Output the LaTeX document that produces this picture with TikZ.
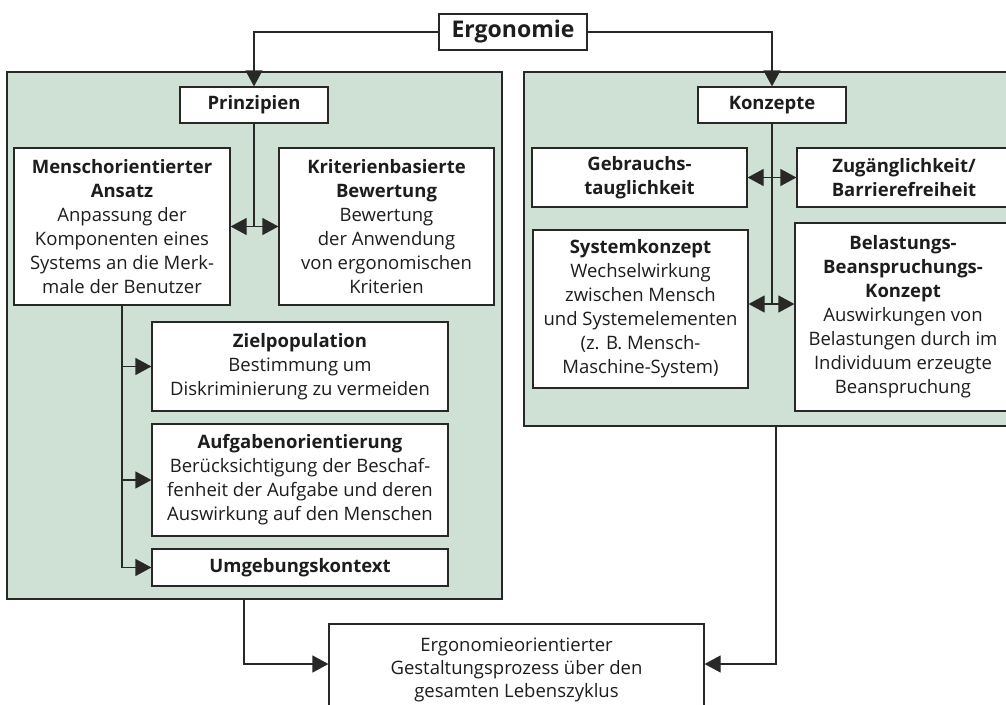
\documentclass[tikz,border=0pt]{standalone}
\usepackage{fontspec}
\setmainfont{Open Sans}
\usetikzlibrary{arrows.meta}
\definecolor{panelfill}{RGB}{207,225,212}
\definecolor{lineclr}{RGB}{40,40,40}
\definecolor{txtclr}{RGB}{30,28,29}
\begin{document}
\begin{tikzpicture}[x=1pt,y=-1pt,
  box/.style={draw=lineclr, line width=1.2pt, fill=white, inner sep=0pt, align=center, text=txtclr, font=\fontsize{18.5}{24}\selectfont},
  panel/.style={draw=lineclr, line width=1.4pt, fill=panelfill, inner sep=0pt},
  conn/.style={draw=lineclr, line width=1.2pt},
  arr/.style={-{Triangle[length=16pt 0,width=17pt 0]}},
  darr/.style={{Triangle[length=16pt 0,width=17pt 0]}-{Triangle[length=16pt 0,width=17pt 0]}}
]
\useasboundingbox (0,0) rectangle (1006,704);
\clip (0,0) rectangle (1006,704);
% panels
\node[panel, minimum width=495pt, minimum height=527pt] (pL) at (254.5,335.5) {};
\node[panel, minimum width=506pt, minimum height=354pt] (pR) at (777,249) {};
% top
\node[box, minimum width=148pt, minimum height=36pt, font=\fontsize{23}{28}\selectfont\bfseries] (ergo) at (513,32) {Ergonomie};
\node[box, minimum width=148pt, minimum height=36pt, font=\fontsize{18.5}{24}\selectfont\bfseries] (prin) at (254,105) {Prinzipien};
\node[box, minimum width=148pt, minimum height=36pt, font=\fontsize{18.5}{24}\selectfont\bfseries] (konz) at (772,105) {Konzepte};
% left panel
\node[box, minimum width=216pt, minimum height=157pt] (mensch) at (122,226.5) {\textbf{Menschorientierter}\\\textbf{Ansatz}\\Anpassung der\\Komponenten eines\\Systems an die Merk-\\male der Benutzer};
\node[box, minimum width=215pt, minimum height=157pt] (krit) at (386.5,226.5) {\textbf{Kriterienbasierte}\\\textbf{Bewertung}\\Bewertung\\der Anwendung\\von ergonomischen\\Kriterien};
\node[box, minimum width=296pt, minimum height=89pt] (ziel) at (300,366.5) {\textbf{Zielpopulation}\\Bestimmung um\\Diskriminierung zu vermeiden};
\node[box, minimum width=296pt, minimum height=112pt] (aufg) at (300,480) {\textbf{Aufgabenorientierung}\\Berücksichtigung der Beschaf-\\fenheit der Aufgabe und deren\\Auswirkung auf den Menschen};
\node[box, minimum width=296pt, minimum height=37pt] (umg) at (300,567.5) {\textbf{Umgebungskontext}};
% right panel
\node[box, minimum width=215pt, minimum height=59pt] (gebr) at (639.5,177.5) {\textbf{Gebrauchs-}\\\textbf{tauglichkeit}};
\node[box, minimum width=214pt, minimum height=59pt] (zug) at (904,177.5) {\textbf{Zugänglichkeit/}\\\textbf{Barrierefreiheit}};
\node[box, minimum width=215pt, minimum height=158pt] (sys) at (640.5,309) {\textbf{Systemkonzept}\\Wechselwirkung\\zwischen Mensch\\und Systemelementen\\(z. B. Mensch-\\Maschine-System)};
\node[box, minimum width=216pt, minimum height=188pt] (bel) at (903,317) {\textbf{Belastungs-}\\\textbf{Beanspruchungs-}\\\textbf{Konzept}\\Auswirkungen von\\Belastungen durch im\\Individuum erzeugte\\Beanspruchung};
% bottom
\node[box, minimum width=375pt, minimum height=92pt, font=\fontsize{18.5}{23}\selectfont] (bot) at (516.5,670) {Ergonomieorientierter\\Gestaltungsprozess über den\\gesamten Lebenszyklus};
% connectors
\draw[conn,arr] (ergo.west) -| (prin.north);
\draw[conn,arr] (ergo.east) -| (konz.north);
\draw[conn] (prin.south) -- (prin.south |- mensch.east);
\draw[conn,darr] (mensch.east) -- (krit.west);
\coordinate (kB) at (772,304);
\draw[conn] (konz.south) -- (kB);
\draw[conn,darr] (gebr.east) -- (zug.west);
\draw[conn,darr] (sys.east |- kB) -- (bel.west |- kB);
\draw[conn,arr] (mensch.south) |- (ziel.west);
\draw[conn,arr] (mensch.south) |- (aufg.west);
\draw[conn,arr] (mensch.south) |- (umg.west);
\coordinate (yA) at (0,664);
\coordinate (xL) at (244,0);
\coordinate (xR) at (776,0);
\draw[conn,arr] (pL.south -| xL) |- (bot.west |- yA);
\draw[conn,arr] (pR.south -| xR) |- (bot.east |- yA);
\end{tikzpicture}
\end{document}
